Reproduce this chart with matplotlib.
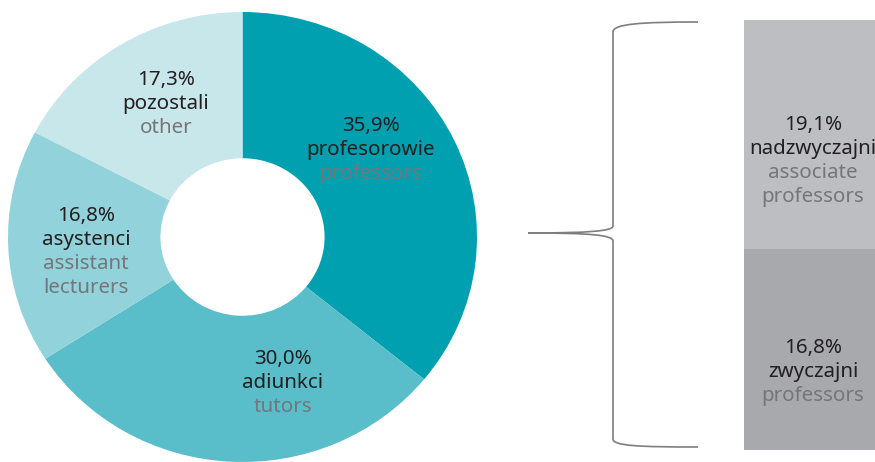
import matplotlib
matplotlib.use("Agg")
import matplotlib.pyplot as plt
from matplotlib.path import Path
from matplotlib.patches import PathPatch

# Data
pie_pct = [35.9, 30.0, 16.8, 17.3]
pie_pl = ["profesorowie", "adiunkci", "asystenci", "pozostali"]
pie_en = ["professors", "tutors", "assistant\nlecturers", "other"]
pie_colors = ["#00A0B1", "#59BEC9", "#92D2DA", "#C8E7EB"]

bar_pct = [16.8, 19.1]
bar_pl = ["zwyczajni", "nadzwyczajni"]
bar_en = ["professors", "associate\nprofessors"]
bar_colors = ["#A8A9AC", "#BDBEC1"]

W, H = 875, 462
FONT = ["Noto Sans", "DejaVu Sans"]
BLACK = "#231F20"
GRAY = "#76767A"
FS = 14.8

fig = plt.figure(figsize=(W / 100, H / 100), dpi=100)

# Donut
ax = fig.add_axes([8 / W, 0 / H, 469 / W, 450 / H])
ax.pie(pie_pct, colors=pie_colors, startangle=90, counterclock=False,
       radius=1, wedgeprops=dict(width=0.65, linewidth=0))
ax.set_aspect("auto")
ax.set_xlim(-1, 1)
ax.set_ylim(-1, 1)
ax.axis("off")

# Stacked bar
ax2 = fig.add_axes([744 / W, 12 / H, 138 / W, 430 / H])
bottom = 0
for v, c in zip(bar_pct, bar_colors):
    ax2.bar(0, v, bottom=bottom, width=1, color=c, linewidth=0)
    bottom += v
ax2.set_xlim(-0.5, 0.5)
ax2.set_ylim(0, sum(bar_pct))
ax2.axis("off")

# Overlay in pixel coordinates
ov = fig.add_axes([0, 0, 1, 1], facecolor="none")
ov.set_xlim(0, W)
ov.set_ylim(H, 0)
ov.axis("off")

def fmt(v):
    return f"{v:.1f}".replace(".", ",") + "%"

LS = 24
def label(x, y, pct, pl, en):
    ov.text(x, y, fmt(pct), ha="center", va="center", color=BLACK,
            fontsize=FS, family=FONT)
    ov.text(x, y + LS, pl, ha="center", va="center", color=BLACK,
            fontsize=FS, family=FONT)
    for i, line in enumerate(en.split("\n")):
        ov.text(x, y + LS * (2 + i), line, ha="center", va="center",
                color=GRAY, fontsize=FS, family=FONT)

pie_pos = [(371, 126), (283, 359), (86, 216), (166, 80)]
for (x, y), p, pl, en in zip(pie_pos, pie_pct, pie_pl, pie_en):
    label(x, y, p, pl, en)

bar_pos = [(813, 348), (813, 125)]
for (x, y), p, pl, en in zip(bar_pos, bar_pct, bar_pl, bar_en):
    label(x, y, p, pl, en)

# Brace
verts = [
    (698, 22), (640, 22), (613, 24), (613, 32),
    (613, 226),
    (613, 231), (590, 233), (528, 233),
    (590, 233), (613, 235), (613, 241),
    (613, 439),
    (613, 446), (640, 447), (698, 447),
]
codes = [Path.MOVETO, Path.CURVE4, Path.CURVE4, Path.CURVE4,
         Path.LINETO,
         Path.CURVE4, Path.CURVE4, Path.CURVE4,
         Path.CURVE4, Path.CURVE4, Path.CURVE4,
         Path.LINETO,
         Path.CURVE4, Path.CURVE4, Path.CURVE4]
ov.add_patch(PathPatch(Path(verts, codes), facecolor="none",
                       edgecolor="#7E7E80", linewidth=1.2))

fig.savefig("out.png", dpi=100)
